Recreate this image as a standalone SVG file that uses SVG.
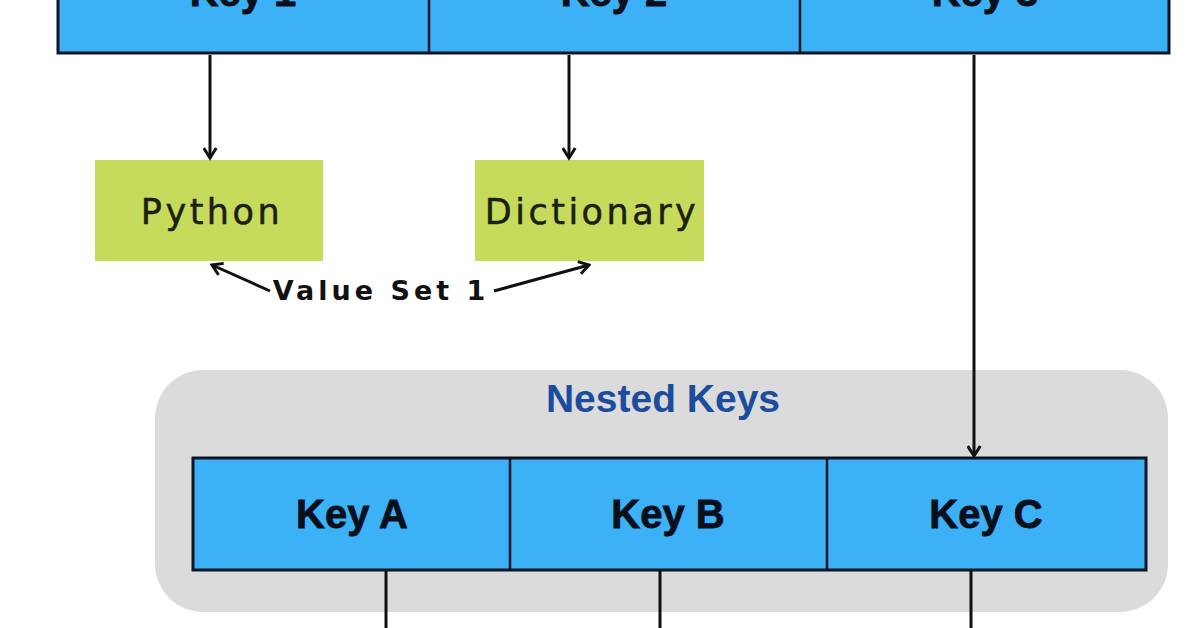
<svg xmlns="http://www.w3.org/2000/svg" width="1196" height="628" viewBox="0 0 1196 628">
<style>
.key{fill:#3cb1f6;stroke:#0b1526;stroke-width:3}
.div{stroke:#0b1526;stroke-width:2.5}
.kt{font-family:"Liberation Sans",Arial,sans-serif;font-weight:bold;font-size:40px;fill:#0a0f1c;stroke:#0a0f1c;stroke-width:0.8;text-anchor:middle}
.val{fill:#c6da5c}
.vt{font-family:"DejaVu Sans",sans-serif;font-size:35px;letter-spacing:3.5px;fill:#1a1f12;stroke:#1a1f12;stroke-width:0.5;text-anchor:middle}
.conn{stroke:#111;stroke-width:3;fill:none}
</style>
<defs>
<marker id="ah" viewBox="0 0 12 12" refX="10" refY="6" markerWidth="5" markerHeight="5" orient="auto" markerUnits="strokeWidth">
<path d="M2,1 L10,6 L2,11" fill="none" stroke="#111" stroke-width="2.4"/>
</marker>
</defs>
<rect width="1196" height="628" fill="#ffffff"/>
<g id="top-keys">
<rect class="key" x="58" y="-70" width="1111" height="123"/>
<line class="div" x1="429" y1="-70" x2="429" y2="53"/>
<line class="div" x1="800" y1="-70" x2="800" y2="53"/>
<text class="kt" x="243" y="6">Key 1</text>
<text class="kt" x="614" y="6">Key 2</text>
<text class="kt" x="985" y="6">Key 3</text>
</g>
<g id="python">
<rect class="val" x="95" y="160" width="228" height="101"/>
<text class="vt" x="212" y="224">Python</text>
</g>
<g id="dictionary">
<rect class="val" x="475" y="160" width="229" height="101"/>
<text class="vt" x="592" y="224">Dictionary</text>
</g>
<g id="value-set-1">
<text x="381" y="300" font-family="DejaVu Sans,sans-serif" font-weight="bold" font-size="27" letter-spacing="4" fill="#111" text-anchor="middle">Value Set 1</text>
</g>
<g id="nested-keys">
<rect x="155" y="370" width="1013" height="242" rx="48" ry="48" fill="#dbdbdb"/>
<text x="663" y="412" font-family="'Liberation Sans',Arial,sans-serif" font-weight="bold" font-size="39" fill="#1b4c9e" text-anchor="middle">Nested Keys</text>
</g>
<g id="key-row">
<rect class="key" x="193" y="458" width="953" height="112"/>
<line class="div" x1="510" y1="458" x2="510" y2="570"/>
<line class="div" x1="827" y1="458" x2="827" y2="570"/>
<text class="kt" x="352" y="528">Key A</text>
<text class="kt" x="668" y="528">Key B</text>
<text class="kt" x="986" y="528">Key C</text>
</g>
<g id="connectors">
<line class="conn" x1="210" y1="55" x2="210" y2="158" marker-end="url(#ah)"/>
<line class="conn" x1="569" y1="55" x2="569" y2="158" marker-end="url(#ah)"/>
<line class="conn" x1="974" y1="55" x2="974" y2="456" marker-end="url(#ah)"/>
<line class="conn" x1="270" y1="291" x2="212" y2="265" marker-end="url(#ah)"/>
<line class="conn" x1="494" y1="291" x2="589" y2="265" marker-end="url(#ah)"/>
<line class="conn" x1="386" y1="571" x2="386" y2="628"/>
<line class="conn" x1="660" y1="571" x2="660" y2="628"/>
<line class="conn" x1="971" y1="571" x2="971" y2="628"/>
</g>
</svg>
